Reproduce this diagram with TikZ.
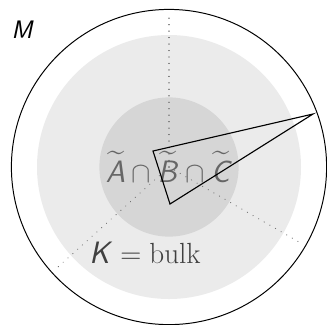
\documentclass[tikz,border=0pt]{standalone}
\usepackage{amsmath,amssymb}
\usepackage{tikz}
\newcommand{\sfit}[1]{\textsf{\textit{#1}}}

\begin{document}
\begin{tikzpicture}[line cap=round,
  ray/.style={black!55,dash pattern=on 0.1pt off 4.5pt,line width=0.8pt},
  lbl/.style={font=\fontsize{22}{26}\selectfont}]
\useasboundingbox (-4.225,-3.925) rectangle (3.95,4.175);
\coordinate (o) at (0,0);
\fill[black!8] (o) circle (3.3);
\fill[black!16] (o) circle (1.74);
\draw[line width=0.7pt] (o) circle (3.94);
\foreach \a/\n in {90/t,222/l,330/r} \coordinate (\n) at (\a:3.8);
\foreach \n in {t,l,r} \draw[ray] (o) -- (\n);
\node[lbl,text=black!60,anchor=base] (abc) at (0,-0.375)
  {$\widetilde{\sfit{A}}\cap\widetilde{\sfit{B}}\cap\widetilde{\sfit{C}}$};
\node[lbl,text=black!75,anchor=base] (bulk) at (-0.6,-2.4) {$\sfit{K}=\mathrm{bulk}$};
\node[font=\fontsize{18}{21}\selectfont,anchor=base] (m) at (-3.66,3.22) {\sfit{M}};
\coordinate (p1) at (-0.4,0.4);
\coordinate (p2) at (3.6,1.325);
\coordinate (p3) at (0.025,-0.925);
\draw[line width=0.8pt,line join=miter] (p1) -- (p2) -- (p3) -- cycle;
\end{tikzpicture}
\end{document}
